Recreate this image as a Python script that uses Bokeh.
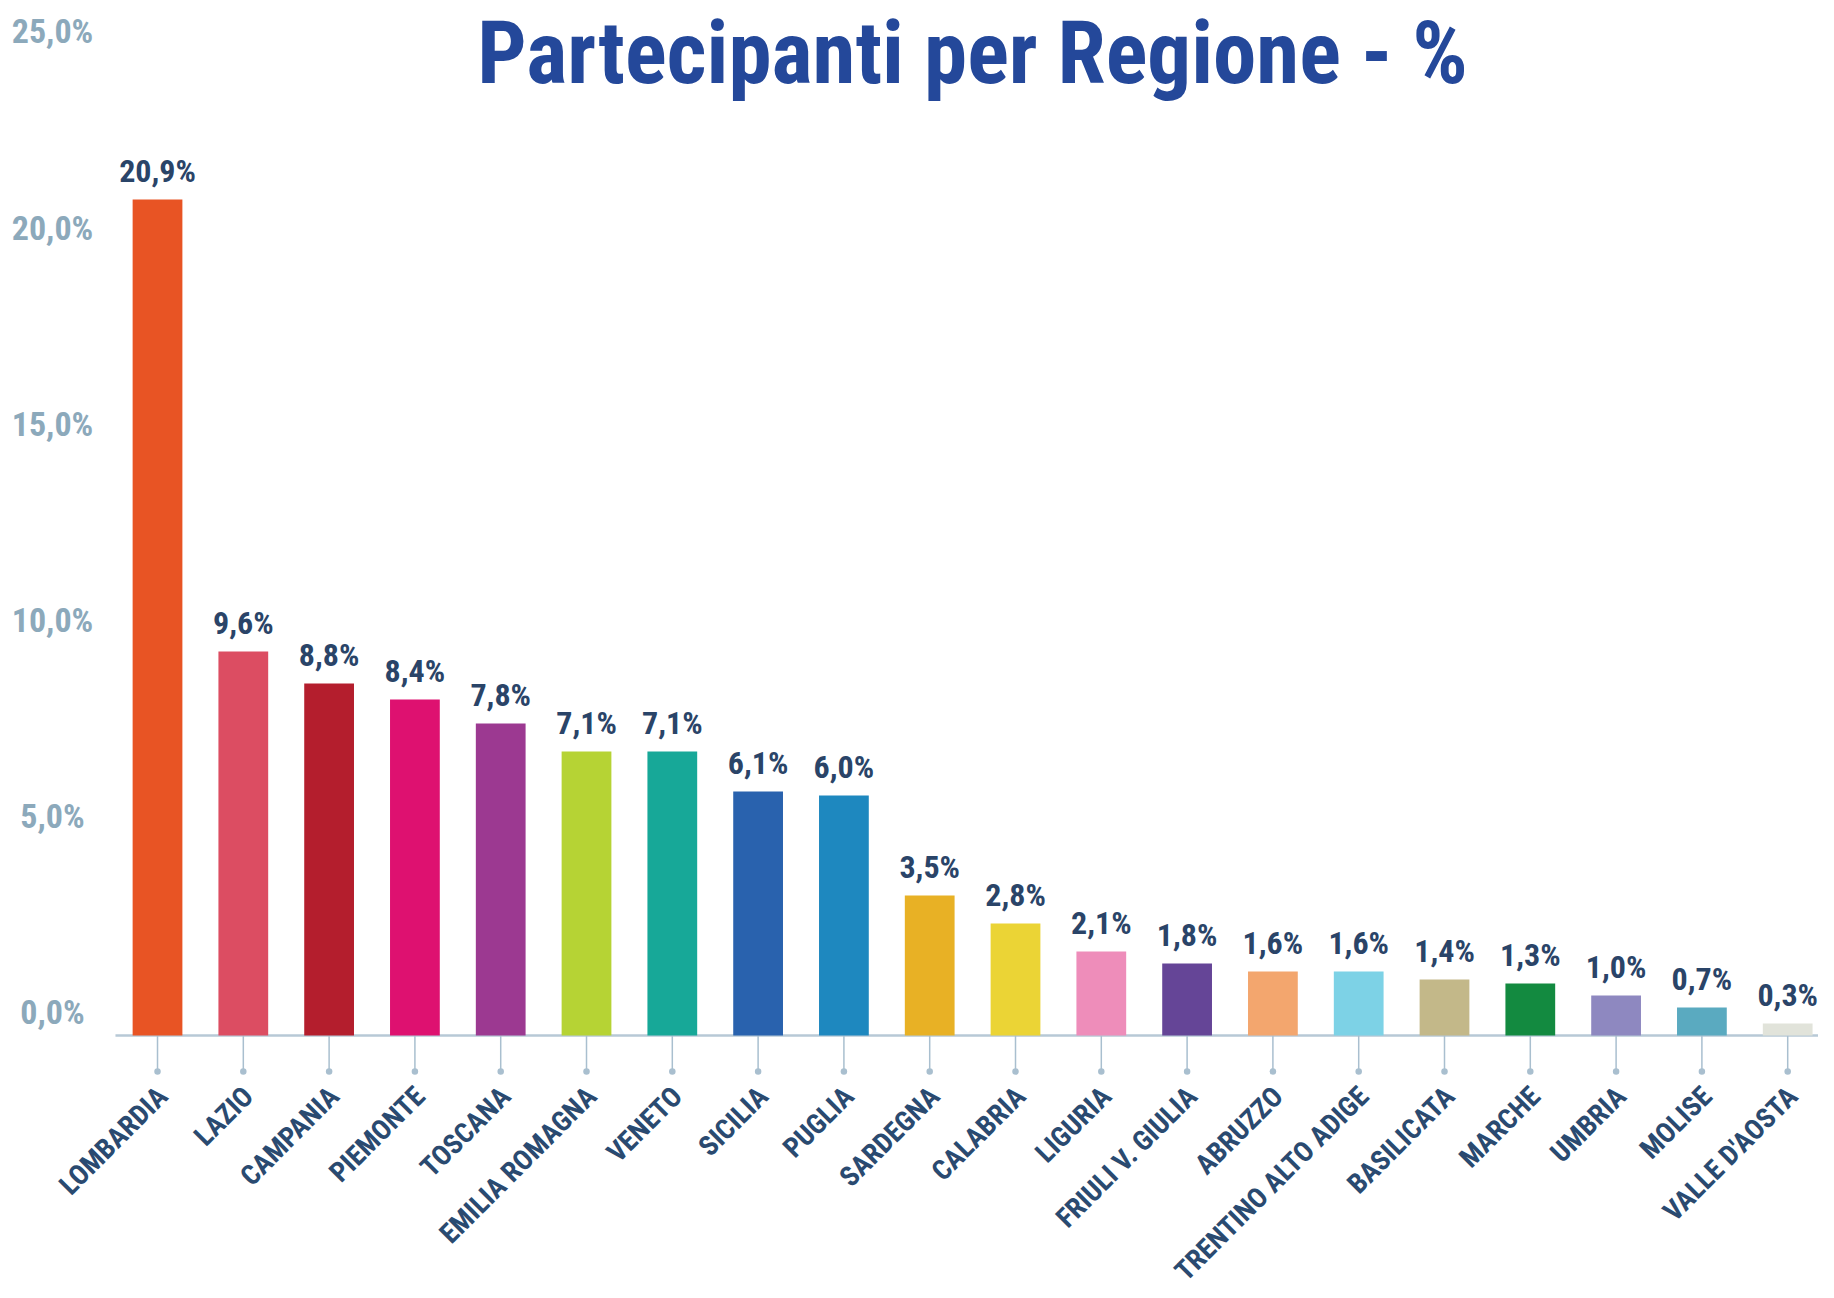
from math import pi
from bokeh.plotting import figure
from bokeh.models import Range1d, ColumnDataSource, LabelSet
from bokeh.core.properties import value
from bokeh.embed import file_html
from bokeh.resources import INLINE

# ---- data ----
REGIONS = ["LOMBARDIA", "LAZIO", "CAMPANIA", "PIEMONTE", "TOSCANA", "EMILIA ROMAGNA",
           "VENETO", "SICILIA", "PUGLIA", "SARDEGNA", "CALABRIA", "LIGURIA",
           "FRIULI V. GIULIA", "ABRUZZO", "TRENTINO ALTO ADIGE", "BASILICATA",
           "MARCHE", "UMBRIA", "MOLISE", "VALLE D'AOSTA"]
VALUES = [20.9, 9.6, 8.8, 8.4, 7.8, 7.1, 7.1, 6.1, 6.0, 3.5, 2.8, 2.1, 1.8, 1.6, 1.6,
          1.4, 1.3, 1.0, 0.7, 0.3]
Y_TICKS = [0, 5, 10, 15, 20, 25]
Y_TICK_LABELS = ["0,0%", "5,0%", "10,0%", "15,0%", "20,0%", "25,0%"]
TITLE = "Partecipanti per Regione - %"

# ---- styles / layout ----
BAR_COLORS = ["#E85424", "#DC4D62", "#B41E2D", "#DE1170", "#9C3991", "#B6D334",
              "#17A898", "#2962AE", "#1E88BF", "#E8B125", "#EBD435", "#EE8DBA",
              "#654597", "#F3A66E", "#7DD2E6", "#C3B889", "#138A40", "#8E88C0",
              "#5AAAC0", "#E1E3DA"]
FONT = "'Roboto Condensed', 'DejaVu Sans Condensed', Roboto, sans-serif"
STEM = -0.9            # tick stems below the baseline, in value units
X_VIEW = (-1.830, 19.359)
BASE_START = -0.490    # where the baseline begins (left edge of plotting area)

n = len(REGIONS)
idx = list(range(n))
labels = [("%.1f%%" % v).replace(".", ",") for v in VALUES]

src = ColumnDataSource(dict(x=idx, top=VALUES, color=BAR_COLORS, label=labels,
                            name=REGIONS, zero=[0] * n, stem=[STEM] * n))
ysrc = ColumnDataSource(dict(y=Y_TICKS, text=Y_TICK_LABELS))

p = figure(width=1818, height=1282, output_backend="svg", toolbar_location=None,
           x_range=Range1d(*X_VIEW), y_range=Range1d(-6.175, 25.875),
           x_axis_location=None, y_axis_location=None,
           min_border_left=0, min_border_right=0, min_border_top=0,
           min_border_bottom=0,
           outline_line_color=None, background_fill_color="white")
p.grid.visible = False
# the original's tick labels sit on their own, slightly offset scale
p.extra_y_ranges = {"axis": Range1d(-6.881, 25.79)}

# baseline and tick stems
p.segment(x0=[BASE_START], y0=[0], x1=[X_VIEW[1]], y1=[0],
          line_color="#B7C9D6", line_width=2.5)
p.segment(x0="x", y0="zero", x1="x", y1="stem", source=src,
          line_color="#A9BFCF", line_width=1.5)
p.scatter(x="x", y="stem", source=src, size=6.5, fill_color="#A9BFCF",
          line_color=None)

p.vbar(x="x", top="top", bottom=0, width=0.58, source=src,
       fill_color="color", line_color=None)

# value labels
p.add_layout(LabelSet(x="x", y="top", text="label", source=src, text_align="center",
                      text_baseline="bottom", y_offset=10, text_font=value(FONT),
                      text_font_style="bold", text_font_size="32px",
                      text_color="#2A4468"))

# category labels (rotated)
p.add_layout(LabelSet(x="x", y="zero", text="name", source=src, angle=pi / 4,
                      text_align="right", text_baseline="middle", x_offset=5,
                      y_offset=-56, text_font=value(FONT), text_font_style="bold",
                      text_font_size="28px", text_color="#2A4A70"))

# y tick labels
p.add_layout(LabelSet(x=X_VIEW[0], y="y", text="text", source=ysrc,
                      y_range_name="axis", x_offset=52, text_align="center",
                      text_baseline="middle", text_font=value(FONT),
                      text_font_style="bold", text_font_size="34px",
                      text_color="#8CA9BB"))

# title
p.text(x=[(n - 1) / 2], y=[p.y_range.end], text=[TITLE], text_align="center",
       text_baseline="alphabetic", y_offset=52, text_font=value(FONT),
       text_font_style="bold", text_font_size="87px", text_color="#24489A")

open("out.html", "w").write(file_html(p, INLINE))
